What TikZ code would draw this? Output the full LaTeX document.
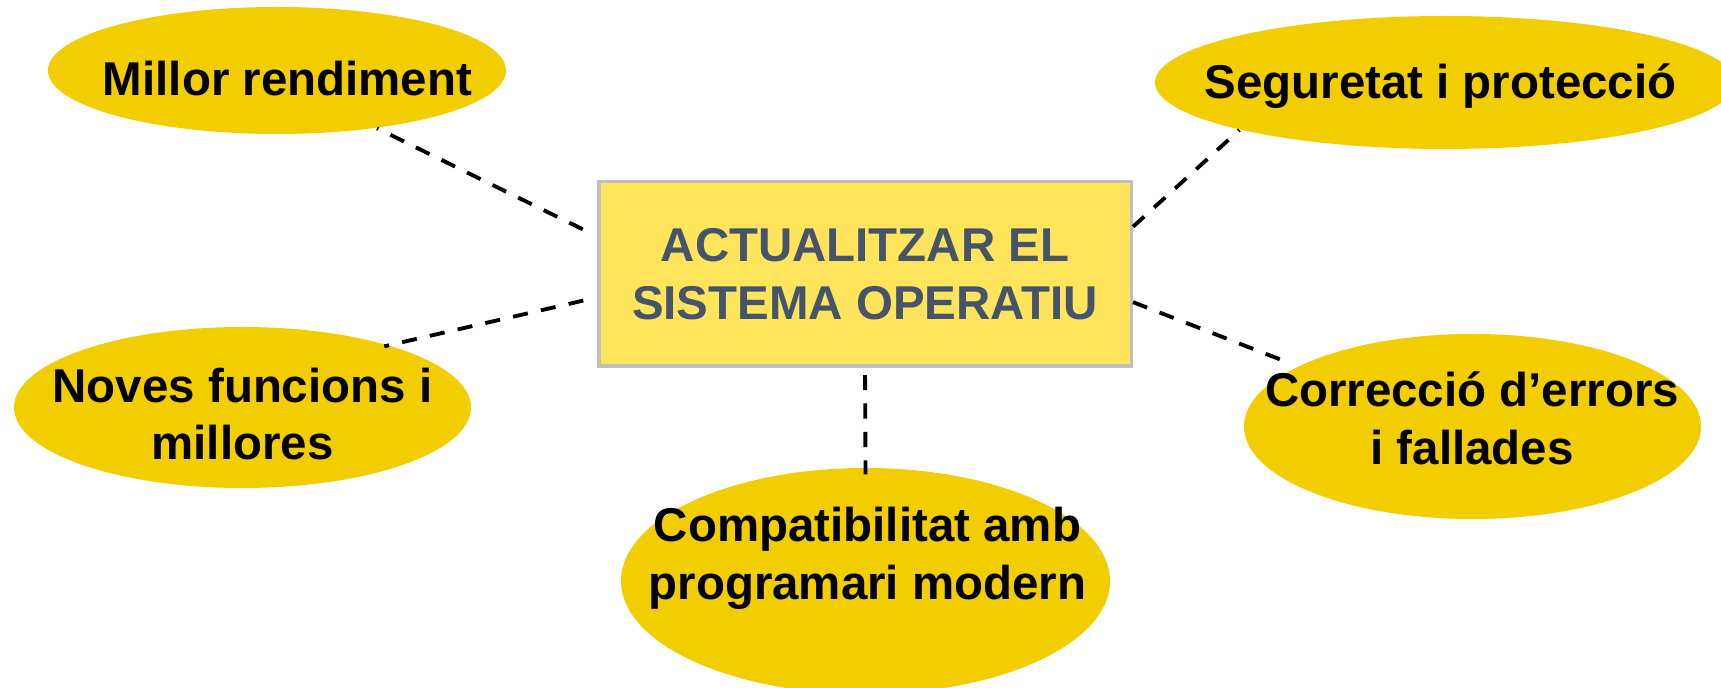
\documentclass[tikz,border=0pt]{standalone}
\usepackage{fontspec}
\setmainfont{Liberation Sans}
\usetikzlibrary{shapes.geometric}
\definecolor{goldfill}{HTML}{F2CD00}
\definecolor{boxfill}{HTML}{FFE45C}
\definecolor{boxtext}{HTML}{44546A}
\definecolor{boxline}{HTML}{BFBFBF}

\begin{document}
\begin{tikzpicture}[bubble/.style={ellipse, fill=goldfill, inner sep=0pt},
    btext/.style={align=center, inner sep=0pt, font=\bfseries\fontsize{13.5}{16.4}\selectfont},
    topic/.style={rectangle, draw=boxline, line width=1pt, fill=boxfill, text=boxtext, align=center,
      minimum width=5.325cm, minimum height=1.845cm, font=\bfseries\fontsize{13.5}{16.4}\selectfont},
    link/.style={line width=1.1pt, dash pattern=on 4.3pt off 3.8pt}]
    \useasboundingbox (0,0) rectangle (17.21,6.88);
    \node[topic] (act) at (8.65,4.14) {ACTUALITZAR EL\\SISTEMA OPERATIU};
    \node[bubble, minimum width=4.58cm, minimum height=1.27cm] (mr) at (2.77,6.175) {};
    \node[bubble, minimum width=5.80cm, minimum height=1.33cm] (sp) at (14.45,6.055) {};
    \node[bubble, minimum width=4.57cm, minimum height=1.61cm] (nf) at (2.425,2.805) {};
    \node[bubble, minimum width=4.57cm, minimum height=1.85cm] (ce) at (14.725,2.615) {};
    \node[bubble, minimum width=4.89cm, minimum height=2.26cm] (cm) at (8.655,1.07) {};
    \node[btext, anchor=base] (mr-t) at (2.875,5.92) {Millor rendiment};
    \node[btext, anchor=base] (sp-t) at (14.405,5.89) {Seguretat i protecció};
    \node[btext] (nf-t) at (2.425,2.74) {Noves funcions i\\millores};
    \node[btext] (ce-t) at (14.72,2.695) {Correcció d’errors\\i fallades};
    \node[btext] (cm-t) at (8.675,1.295) {Compatibilitat amb\\programari modern};
    \draw[link, shorten <=4.5pt] (act.172.7) -- (mr.-30.9);
    \draw[link] (act.10.1) -- (sp.193.6);
    \draw[link, shorten <=4pt, shorten >=-1.5pt] (act.185) -- (nf.23);
    \draw[link, shorten >=5pt] (act.-6.5) -- (ce.161.9);
    \draw[link, shorten <=2pt, shorten >=-2pt] (act.south) -- (cm.north);
\end{tikzpicture}
\end{document}
